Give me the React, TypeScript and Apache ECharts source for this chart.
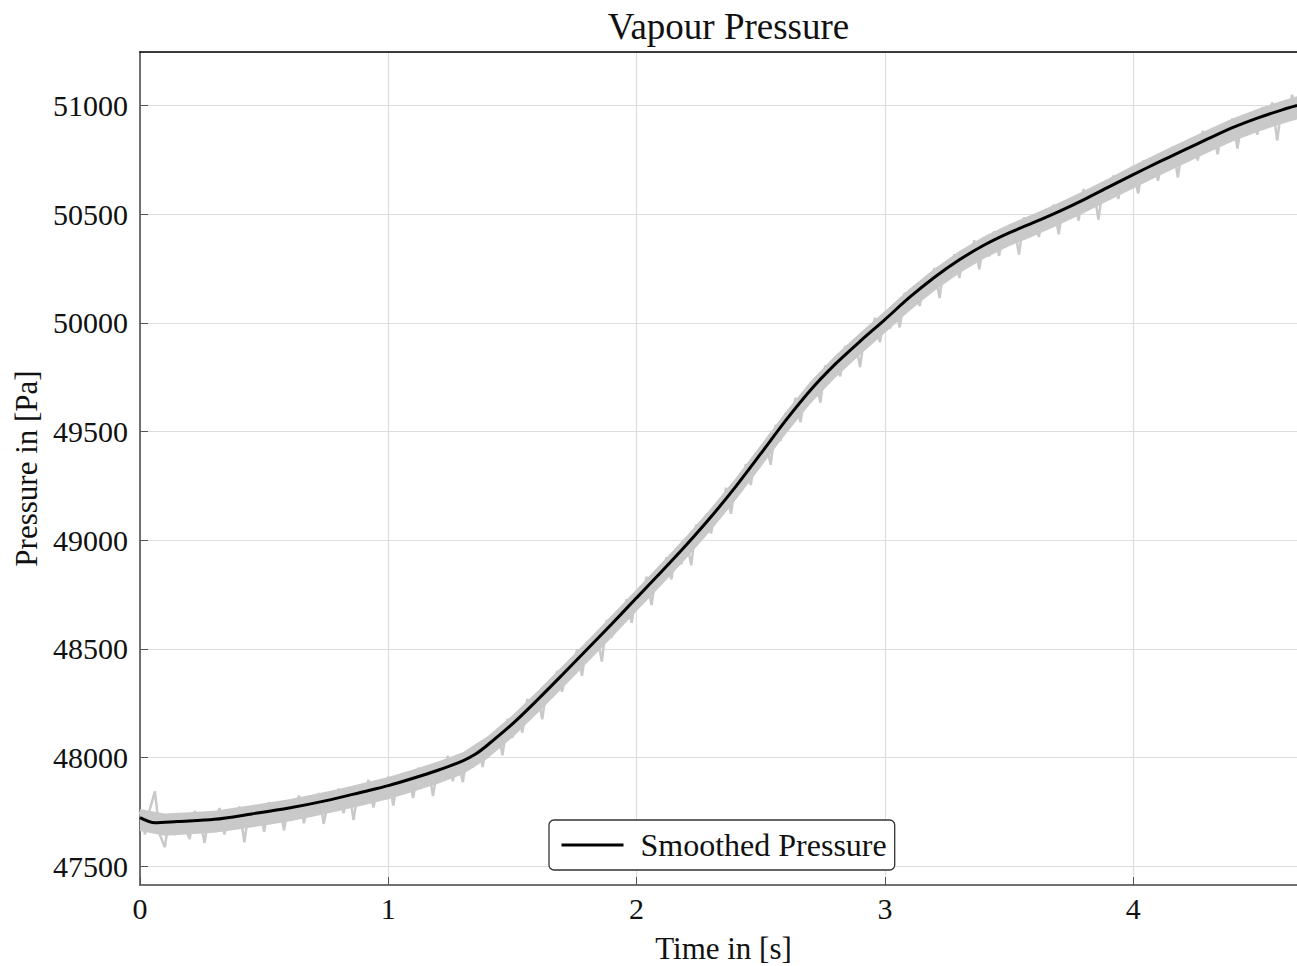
import React, { useEffect, useRef } from "react";
import * as echarts from "echarts";

const FONT = '"Liberation Serif", "DejaVu Serif", serif';
const INK = "#111111";
const RAW_GREY = "#c9c9c9";

// Smoothed pressure curve [s] -> [Pa]
const smoothTime = [
  0, 0.06, 0.15, 0.3, 0.45, 0.6, 0.75, 0.9, 1.0, 1.1, 1.2, 1.3, 1.35, 1.4, 1.5,
  1.6, 1.7, 1.8, 1.9, 2.0, 2.1, 2.2, 2.3, 2.4, 2.5, 2.6, 2.7, 2.8, 2.9, 3.0,
  3.1, 3.2, 3.3, 3.4, 3.5, 3.6, 3.7, 3.8, 3.9, 4.0, 4.1, 4.2, 4.3, 4.4, 4.5,
  4.6, 4.66,
];
const smoothPressure = [
  47724, 47700, 47706, 47716, 47741, 47768, 47802, 47843, 47871, 47905, 47942,
  47985, 48015, 48058, 48155, 48265, 48380, 48497, 48615, 48735, 48855, 48978,
  49108, 49248, 49398, 49550, 49690, 49810, 49915, 50015, 50118, 50210, 50290,
  50358, 50414, 50462, 50512, 50566, 50624, 50682, 50738, 50792, 50846, 50898,
  50942, 50980, 51000,
];

// Dense part of the raw signal: upper and lower edge of the noise band
const bandTime = [
  0, 0.1, 0.2, 0.3, 0.4, 0.5, 0.6, 0.7, 0.8, 0.9, 1.0, 1.1, 1.2, 1.3, 1.4,
  1.5, 1.6, 1.7, 1.8, 1.9, 2.0, 2.1, 2.2, 2.3, 2.4, 2.5, 2.6, 2.7, 2.8, 2.9,
  3.0, 3.1, 3.2, 3.3, 3.4, 3.5, 3.6, 3.7, 3.8, 3.9, 4.0, 4.1, 4.2, 4.3, 4.4,
  4.5, 4.6, 4.66,
];
const bandUpper = [
  47764, 47743, 47749, 47756, 47773, 47790, 47808, 47831, 47856, 47883,
  47911, 47945, 47982, 48025, 48098, 48195, 48305, 48420, 48537, 48655,
  48775, 48895, 49018, 49148, 49288, 49438, 49590, 49730, 49850, 49955,
  50055, 50158, 50250, 50330, 50398, 50454, 50502, 50552, 50606, 50664,
  50724, 50780, 50834, 50888, 50940, 50984, 51022, 51042,
];
const bandLower = [
  47662, 47641, 47647, 47654, 47671, 47688, 47706, 47729, 47754, 47781,
  47809, 47843, 47880, 47923, 47996, 48093, 48203, 48318, 48435, 48553,
  48673, 48793, 48916, 49046, 49186, 49336, 49488, 49628, 49748, 49853,
  49953, 50056, 50148, 50228, 50296, 50352, 50400, 50450, 50504, 50562,
  50618, 50674, 50728, 50782, 50834, 50878, 50916, 50936,
];

// Raw pressure samples, one every RAW_STEP seconds starting at RAW_START
const RAW_START = 0;
const RAW_STEP = 0.02;
const rawPressure = [
  47752, 47646, 47764, 47845, 47645, 47588, 47739, 47643, 47735, 47680,
  47625, 47753, 47719, 47608, 47750, 47674, 47768, 47646, 47747, 47694,
  47775, 47610, 47767, 47694, 47781, 47659, 47795, 47736, 47789, 47666,
  47803, 47717, 47826, 47698, 47807, 47749, 47837, 47695, 47819, 47775,
  47858, 47744, 47862, 47713, 47866, 47794, 47898, 47770, 47881, 47823,
  47913, 47780, 47920, 47835, 47926, 47814, 47954, 47892, 47962, 47823,
  47970, 47902, 48008, 47891, 47997, 47887, 48032, 47953, 48066, 47957,
  48086, 48035, 48132, 48011, 48178, 48092, 48205, 48115, 48270, 48208,
  48300, 48176, 48339, 48278, 48399, 48303, 48424, 48385, 48499, 48376,
  48532, 48472, 48572, 48442, 48633, 48552, 48674, 48635, 48729, 48620,
  48763, 48703, 48832, 48702, 48852, 48813, 48922, 48820, 48964, 48890,
  49006, 48885, 49072, 49021, 49117, 49031, 49164, 49115, 49241, 49122,
  49269, 49222, 49350, 49254, 49403, 49356, 49456, 49347, 49531, 49457,
  49585, 49543, 49655, 49543, 49690, 49634, 49749, 49633, 49804, 49744,
  49831, 49754, 49894, 49817, 49929, 49796, 49963, 49913, 50024, 49911,
  50050, 49973, 50084, 49979, 50139, 50076, 50171, 50078, 50194, 50136,
  50252, 50114, 50270, 50209, 50316, 50206, 50339, 50282, 50380, 50246,
  50386, 50306, 50422, 50308, 50438, 50372, 50452, 50314, 50485, 50396,
  50497, 50395, 50503, 50450, 50544, 50407, 50558, 50485, 50572, 50471,
  50615, 50543, 50624, 50475, 50640, 50568, 50678, 50570, 50694, 50628,
  50710, 50595, 50746, 50667, 50762, 50654, 50770, 50704, 50812, 50669,
  50827, 50761, 50842, 50747, 50884, 50790, 50891, 50776, 50905, 50846,
  50940, 50802, 50951, 50868, 50961, 50865, 50992, 50915, 51014, 50839,
  51015, 50931, 51049, 50972,
];

// Axis extents
const X_MIN = 0;
const X_MAX = 4.7;
const Y_MIN = 47414;
const Y_MAX = 51246;

export default function App() {
  const ref = useRef<HTMLDivElement>(null);

  useEffect(() => {
    if (!ref.current) return;
    const chart = echarts.init(ref.current, undefined, { renderer: "svg" });

    const rawData = rawPressure.map((p, i) => [
      +(RAW_START + i * RAW_STEP).toFixed(2),
      p,
    ]);
    const smoothData = smoothTime.map((t, i) => [t, smoothPressure[i]]);

    const renderBand = (_params: any, api: any) => {
      const upper = bandTime.map((t, i) => api.coord([t, bandUpper[i]]));
      const lower = bandTime
        .map((t, i) => api.coord([t, bandLower[i]]))
        .reverse();
      return {
        type: "polygon",
        shape: { points: upper.concat(lower) },
        style: { fill: RAW_GREY, stroke: "none" },
        silent: true,
      };
    };

    chart.setOption({
      animation: false,
      backgroundColor: "#ffffff",
      title: {
        text: "Vapour Pressure",
        left: 723.5,
        textAlign: "center",
        top: 3,
        textStyle: {
          fontFamily: FONT,
          fontSize: 37,
          fontWeight: "normal",
          color: INK,
        },
      },
      legend: {
        data: ["Smoothed Pressure"],
        left: 549,
        top: 820,
        itemWidth: 62,
        itemHeight: 14,
        padding: [9, 8, 9, 11],
        backgroundColor: "#ffffff",
        borderColor: "#333333",
        borderWidth: 1.3,
        borderRadius: 5,
        itemStyle: { opacity: 0 },
        lineStyle: { color: "#000000", width: 3 },
        textStyle: {
          fontFamily: FONT,
          fontSize: 32,
          color: INK,
          padding: [0, 0, 0, 12],
        },
      },
      grid: {
        left: 140,
        top: 52,
        right: -10,
        bottom: 81,
        containLabel: false,
        outerBoundsMode: "none",
      },
      xAxis: [
        {
          type: "value",
          min: X_MIN,
          max: X_MAX,
          interval: 1,
          axisLine: {
            show: true,
            onZero: false,
            lineStyle: { color: "#707070", width: 2 },
          },
          axisTick: {
            show: true,
            inside: true,
            length: 8,
            lineStyle: { color: "#555555", width: 1 },
          },
          axisLabel: {
            fontFamily: FONT,
            fontSize: 30,
            color: INK,
            margin: 8,
            showMaxLabel: false,
          },
          splitLine: {
            show: true,
            lineStyle: { color: "#dddddd", width: 1.2 },
          },
          name: "Time in [s]",
          nameLocation: "middle",
          nameGap: 48,
          nameTextStyle: { fontFamily: FONT, fontSize: 31, color: INK },
        },
        {
          type: "value",
          position: "top",
          min: X_MIN,
          max: X_MAX,
          interval: 1,
          axisLine: {
            show: true,
            onZero: false,
            lineStyle: { color: "#000000", width: 1.6 },
          },
          axisTick: { show: false },
          axisLabel: { show: false },
          splitLine: { show: false },
        },
      ],
      yAxis: {
        type: "value",
        min: Y_MIN,
        max: Y_MAX,
        splitNumber: 8,
        axisLine: {
          show: true,
          onZero: false,
          lineStyle: { color: "#707070", width: 2 },
        },
        axisTick: {
          show: true,
          inside: true,
          length: 8,
          lineStyle: { color: "#555555", width: 1 },
        },
        axisLabel: {
          fontFamily: FONT,
          fontSize: 30,
          color: INK,
          margin: 12,
          showMinLabel: false,
          showMaxLabel: false,
          formatter: (v: number) => String(v),
        },
        splitLine: {
          show: true,
          lineStyle: { color: "#dddddd", width: 1.2 },
        },
        name: "Pressure in [Pa]",
        nameLocation: "middle",
        nameGap: 98,
        nameRotate: 90,
        nameTextStyle: { fontFamily: FONT, fontSize: 31, color: INK },
      },
      series: [
        {
          name: "Raw Band",
          type: "custom",
          xAxisIndex: 0,
          data: [[X_MIN, Y_MIN]],
          renderItem: renderBand,
          silent: true,
          z: 1,
        },
        {
          name: "Raw Pressure",
          type: "line",
          xAxisIndex: 0,
          data: rawData,
          symbol: "none",
          silent: true,
          z: 2,
          lineStyle: { color: RAW_GREY, width: 2.5, join: "bevel" },
        },
        {
          name: "Smoothed Pressure",
          type: "line",
          xAxisIndex: 0,
          data: smoothData,
          symbol: "none",
          smooth: 0.3,
          silent: true,
          z: 3,
          lineStyle: { color: "#000000", width: 3 },
          itemStyle: { color: "#000000" },
        },
      ],
    });

    return () => chart.dispose();
  }, []);

  return (
    <div
      ref={ref}
      style={{
        position: "absolute",
        left: 0,
        top: 0,
        width: 1297,
        height: 966,
        overflow: "hidden",
      }}
    />
  );
}
